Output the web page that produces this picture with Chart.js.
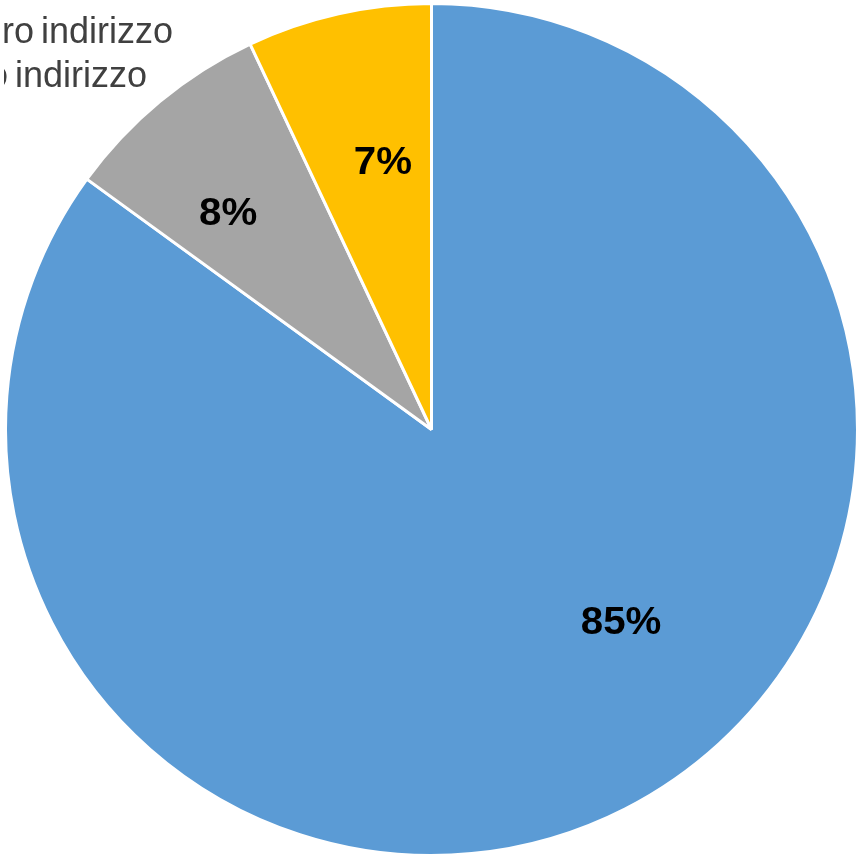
<!DOCTYPE html>
<html>
<head>
<meta charset="utf-8">
<script src="https://cdn.jsdelivr.net/npm/chart.js@4/dist/chart.umd.min.js"></script>
<style>
  html, body { margin: 0; padding: 0; background: #ffffff; overflow: hidden; }
  body { width: 858px; height: 855px; position: relative; }
  #wrap { position: absolute; left: 4px; top: 2px; width: 855px; height: 855px; }
</style>
</head>
<body>
<div id="wrap"><canvas id="pie"></canvas></div>
<script>
// Categories and shares (percent)
const categories = ["Stesso indirizzo", "Altro indirizzo", "Nuovo indirizzo"];
const shares = [85, 8, 7];
const sliceColors = ["#5B9BD5", "#A5A5A5", "#FFC000"];

// Where each percentage label sits: fraction along the slice's arc and fraction of the radius
const labelAlong = [0.442, 0.382, 0.595];
const labelRadius = [0.632, 0.70, 0.643];

// Percentage labels inside the slices
const sliceLabels = {
  id: "sliceLabels",
  afterDatasetsDraw(chart) {
    const ctx = chart.ctx;
    const meta = chart.getDatasetMeta(0);
    const total = shares.reduce((a, b) => a + b, 0);
    const size = 38;
    const sx = 1.06;
    ctx.save();
    ctx.font = "bold " + size + "px 'Liberation Sans', Arial, sans-serif";
    ctx.fillStyle = "#000000";
    ctx.textAlign = "center";
    ctx.textBaseline = "alphabetic";
    meta.data.forEach((arc, i) => {
      const p = arc.getProps(["x", "y", "startAngle", "endAngle", "outerRadius"], true);
      const a = p.startAngle + labelAlong[i] * (p.endAngle - p.startAngle);
      const r = labelRadius[i] * p.outerRadius;
      const x = p.x + r * Math.cos(a);
      const y = p.y + r * Math.sin(a);
      const txt = Math.round(shares[i] / total * 100) + "%";
      ctx.save();
      ctx.translate(x, y + size * 0.716 / 2);
      ctx.scale(sx, 1);
      ctx.fillText(txt, 0, 0);
      ctx.restore();
    });
    ctx.restore();
  }
};

// Legend text at the upper left, running past the left edge
const legendText = {
  id: "legendText",
  afterDraw(chart) {
    const ctx = chart.ctx;
    // canvas is shifted 4px right, 2px down inside the page
    const ends = [null, 169, 143];
    const baselines = [null, 41, 85];
    ctx.save();
    ctx.font = "36px 'Liberation Sans', Arial, sans-serif";
    if ("wordSpacing" in ctx) ctx.wordSpacing = "-3px";
    ctx.fillStyle = "#404040";
    ctx.textAlign = "right";
    ctx.textBaseline = "alphabetic";
    categories.forEach((c, i) => {
      if (ends[i] === null) return;
      ctx.fillText(c, ends[i], baselines[i]);
    });
    ctx.restore();
  }
};

new Chart(document.getElementById("pie"), {
  type: "pie",
  data: {
    labels: categories,
    datasets: [{
      data: shares,
      backgroundColor: sliceColors,
      borderColor: "#ffffff",
      borderWidth: 3
    }]
  },
  options: {
    responsive: true,
    maintainAspectRatio: false,
    animation: false,
    layout: { padding: 0 },
    plugins: {
      legend: { display: false },
      tooltip: { enabled: false },
      title: { display: false }
    }
  },
  plugins: [sliceLabels, legendText]
});
</script>
</body>
</html>
